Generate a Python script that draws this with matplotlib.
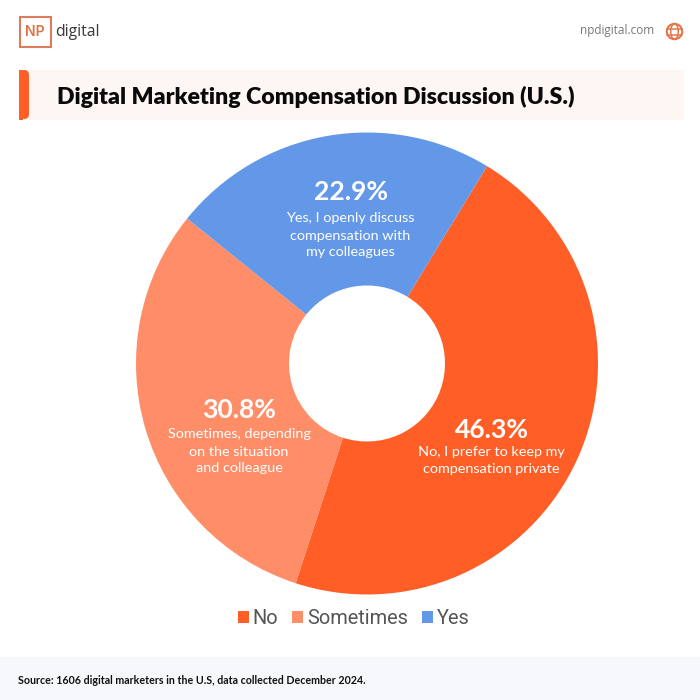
""" Donut chart of digital marketing compensation discussion, NP Digital style. """

import matplotlib
matplotlib.use("Agg")
import matplotlib.pyplot as plt
from matplotlib.patches import Circle, FancyBboxPatch, Rectangle, Ellipse

categories = ["No", "Sometimes", "Yes"]
shares = [46.3, 30.8, 22.9]
colors = ["#FF5F26", "#FF8E68", "#6398E9"]
descriptions = ["No, I prefer to keep my\ncompensation private",
                "Sometimes, depending\non the situation\nand colleague",
                "Yes, I openly discuss\ncompensation with\nmy colleagues"]
title = "Digital Marketing Compensation Discussion (U.S.)"
source = "Source: 1606 digital marketers in the U.S, data collected December 2024."

FONT = "Lato"
SIZE = 700


def px(size):
    return size * 0.72


def decorate(bg):
    # header logo
    bg.add_patch(Rectangle((19.5, 17), 31, 30, fill=False, ec="#DC7C5C", lw=1.5))
    bg.text(35, 32.5, "NP", color="#DC7345", fontsize=px(14), fontweight="semibold",
            family="Inter", ha="center", va="center")
    bg.text(55, 32, "digital", color="#3A3A3A", fontsize=px(15.7), family="Open Sans",
            ha="left", va="center")
    bg.text(654, 30.5, "npdigital.com", color="#77777B", fontsize=px(11.8), family="Open Sans",
            ha="right", va="center")

    # globe icon
    bg.add_patch(Circle((674.5, 31.5), 7.7, fill=False, ec="#E4764C", lw=1.5))
    bg.add_patch(Ellipse((674.5, 31.5), 7.5, 15.4, fill=False, ec="#E4764C", lw=1.1))
    bg.plot([667, 682], [28.5, 28.5], color="#E4764C", lw=1.1)
    bg.plot([667, 682], [34.5, 34.5], color="#E4764C", lw=1.1)

    # title band
    bg.add_patch(Rectangle((20, 70), 664, 50, color="#FDF6F2", lw=0))
    bg.add_patch(FancyBboxPatch((23, 73), 3, 43, boxstyle="round,pad=3,rounding_size=5",
                                fc="#FF5F26", ec="none"))
    bg.add_patch(Rectangle((19, 70), 4, 50, color="#FF5F26", lw=0))
    bg.text(57, 97, title, color="#0A0A0A", fontsize=px(23.07), fontweight="heavy",
            family=FONT, ha="left", va="center")

    # source band
    bg.add_patch(Rectangle((0, 657), SIZE, 43, color="#F7F8FB", lw=0))
    bg.text(18, 680.5, source, color="#111111", fontsize=px(10.65), fontweight="bold",
            family=FONT, ha="left", va="center")


def main():
    fig = plt.figure(figsize=(7, 7), dpi=100, facecolor="white")

    bg = fig.add_axes([0, 0, 1, 1])
    bg.set_xlim(0, SIZE)
    bg.set_ylim(SIZE, 0)
    bg.axis("off")
    decorate(bg)

    cx, cy, radius = 367, 363.5, 231
    ax = fig.add_axes([(cx - radius) / SIZE, (SIZE - cy - radius) / SIZE,
                       2 * radius / SIZE, 2 * radius / SIZE])
    wedges, _ = ax.pie(shares, colors=colors, startangle=58.7, counterclock=False,
                       radius=1, wedgeprops={"width": 1 - 78 / radius, "linewidth": 0})
    ax.set_xlim(-1, 1)
    ax.set_ylim(-1, 1)

    # slice labels, on top of the pie
    fg = fig.add_axes([0, 0, 1, 1])
    fg.set_xlim(0, SIZE)
    fg.set_ylim(SIZE, 0)
    fg.axis("off")
    pct_pos = [(492, 429.5), (239, 410), (351, 192)]
    desc_pos = [(491, 460.5), (239, 451.5), (350, 235.5)]
    for share, desc, p, d in zip(shares, descriptions, pct_pos, desc_pos):
        fg.text(p[0], p[1], "{}%".format(share), color="white", fontsize=px(26.5), fontweight="bold",
                family=FONT, ha="center", va="center")
        fg.text(d[0], d[1], desc, color="white", fontsize=px(14.4), family=FONT,
                ha="center", va="center", linespacing=1.5)

    fig.legend(wedges, categories, loc="center", bbox_to_anchor=(354 / SIZE, 1 - 618.5 / SIZE), ncol=3,
               frameon=False, prop={"family": "Roboto", "size": px(20), "weight": "normal"},
               labelcolor="#555555", handlelength=0.55, handleheight=0.55, handletextpad=0.2,
               columnspacing=0.7, borderpad=0)

    fig.savefig("out.png", dpi=100)
    plt.close(fig)


if __name__ == "__main__":
    main()
